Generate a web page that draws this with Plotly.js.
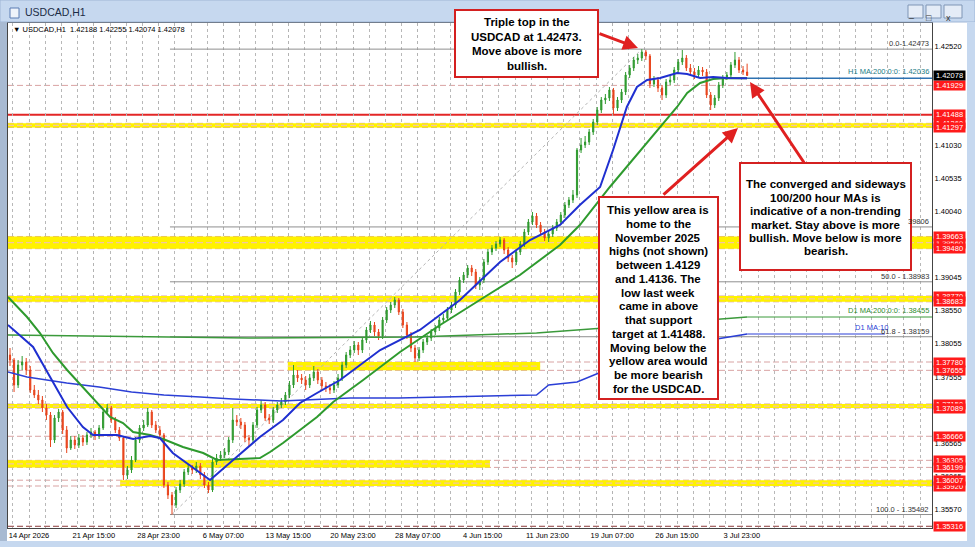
<!DOCTYPE html>
<html><head><meta charset="utf-8">
<script src="https://cdn.plot.ly/plotly-3.0.1.min.js"></script>
<style>html,body{margin:0;padding:0;background:#fff;overflow:hidden}#chart{width:975px;height:547px}</style>
</head><body><div id="chart"></div>
<script>
// ---- data (8-hour candles) ----
const opens=[1.37885,1.37810,1.37435,1.37735,1.37780,1.37660,1.37360,1.37285,1.37210,1.37090,
1.36985,1.36610,1.36940,1.37030,1.36760,1.36490,1.36610,1.36535,1.36640,1.36580,
1.36685,1.36730,1.36670,1.36790,1.37030,1.37090,1.36910,1.36760,1.36640,1.36085,
1.36160,1.36310,1.36610,1.36790,1.36835,1.37030,1.36835,1.36760,1.36685,1.35935,
1.35785,1.35635,1.35860,1.35950,1.36130,1.36190,1.36160,1.36220,1.36085,1.35935,
1.35860,1.36280,1.36340,1.36385,1.36430,1.36610,1.36910,1.36880,1.36835,1.36640,
1.36610,1.36835,1.37060,1.37135,1.36940,1.36910,1.37060,1.37135,1.37180,1.37285,
1.37435,1.37585,1.37540,1.37510,1.37435,1.37540,1.37630,1.37510,1.37420,1.37390,
1.37360,1.37435,1.37540,1.37735,1.37885,1.37960,1.38035,1.37960,1.38110,1.38260,
1.38335,1.38230,1.38170,1.38410,1.38560,1.38635,1.38710,1.38530,1.38335,1.38185,
1.37990,1.37840,1.37960,1.38080,1.38140,1.38230,1.38290,1.38410,1.38440,1.38560,
1.38635,1.38830,1.39010,1.39085,1.39190,1.39130,1.38935,1.39010,1.39280,1.39430,
1.39490,1.39550,1.39610,1.39460,1.39340,1.39280,1.39430,1.39550,1.39730,1.39880,
1.39970,1.39835,1.39730,1.39640,1.39700,1.39790,1.39880,1.39985,1.40135,1.40210,
1.40285,1.40960,1.41035,1.41080,1.41230,1.41380,1.41560,1.41710,1.41740,1.41860,
1.41590,1.41710,1.41830,1.42085,1.42190,1.42310,1.42340,1.42430,1.42370,1.41950,
1.42010,1.41890,1.41785,1.41980,1.42010,1.42160,1.42280,1.42340,1.42190,1.42130,
1.42085,1.42160,1.42130,1.41785,1.41635,1.41740,1.41935,1.42040,1.42085,1.42235,
1.42310,1.42160,1.42130];
const highs=[1.37990,1.37840,1.37810,1.37870,1.37840,1.37720,1.37435,1.37360,1.37270,1.37150,
1.37030,1.36985,1.37075,1.37060,1.36820,1.36670,1.36670,1.36700,1.36685,1.36730,
1.36790,1.36760,1.36835,1.37075,1.37150,1.37120,1.36955,1.36805,1.36670,1.36220,
1.36370,1.36655,1.36835,1.36910,1.37090,1.37060,1.36895,1.36820,1.36715,1.35980,
1.35830,1.35905,1.36010,1.36175,1.36250,1.36235,1.36280,1.36265,1.36130,1.35980,
1.36325,1.36400,1.36445,1.36490,1.36655,1.37090,1.36985,1.36940,1.36880,1.36685,
1.36880,1.37105,1.37210,1.37180,1.37000,1.37105,1.37180,1.37240,1.37330,1.37495,
1.37735,1.37660,1.37600,1.37570,1.37600,1.37720,1.37675,1.37555,1.37480,1.37450,
1.37495,1.37600,1.37780,1.37930,1.38020,1.38095,1.38080,1.38155,1.38305,1.38395,
1.38380,1.38275,1.38455,1.38605,1.38680,1.38755,1.38740,1.38575,1.38380,1.38230,
1.38035,1.38005,1.38125,1.38185,1.38275,1.38335,1.38455,1.38500,1.38605,1.38680,
1.38875,1.39055,1.39130,1.39235,1.39235,1.39175,1.39055,1.39325,1.39475,1.39535,
1.39595,1.39655,1.39640,1.39505,1.39385,1.39475,1.39595,1.39775,1.39925,1.40030,
1.40015,1.39880,1.39775,1.39745,1.39835,1.39925,1.40030,1.40180,1.40255,1.40360,
1.40990,1.41140,1.41170,1.41275,1.41425,1.41605,1.41755,1.41800,1.41905,1.41890,
1.41755,1.41875,1.42130,1.42235,1.42355,1.42400,1.42473,1.42460,1.42400,1.42070,
1.42055,1.41935,1.42025,1.42070,1.42205,1.42325,1.42460,1.42385,1.42250,1.42190,
1.42220,1.42205,1.42175,1.41830,1.41785,1.41980,1.42085,1.42130,1.42280,1.42430,
1.42355,1.42220,1.42255];
const lows=[1.37720,1.37330,1.37390,1.37660,1.37585,1.37315,1.37240,1.37150,1.37030,1.36910,
1.36505,1.36565,1.36880,1.36700,1.36415,1.36460,1.36475,1.36490,1.36520,1.36535,
1.36640,1.36610,1.36625,1.36760,1.37000,1.36865,1.36715,1.36595,1.36010,1.36025,
1.36115,1.36280,1.36565,1.36745,1.36805,1.36790,1.36715,1.36640,1.35890,1.35725,
1.35492,1.35590,1.35815,1.35905,1.36085,1.36100,1.36115,1.36025,1.35890,1.35815,
1.35830,1.36235,1.36295,1.36340,1.36385,1.36565,1.36820,1.36775,1.36580,1.36505,
1.36565,1.36790,1.37015,1.36895,1.36850,1.36865,1.37015,1.37090,1.37135,1.37240,
1.37390,1.37480,1.37450,1.37360,1.37390,1.37495,1.37450,1.37360,1.37330,1.37300,
1.37315,1.37390,1.37495,1.37690,1.37840,1.37915,1.37885,1.37915,1.38065,1.38215,
1.38170,1.38110,1.38125,1.38365,1.38515,1.38590,1.38485,1.38290,1.38125,1.37930,
1.37780,1.37795,1.37915,1.38035,1.38095,1.38185,1.38245,1.38365,1.38395,1.38515,
1.38590,1.38785,1.38965,1.39040,1.39070,1.38875,1.38860,1.38965,1.39235,1.39385,
1.39445,1.39505,1.39400,1.39280,1.39190,1.39235,1.39385,1.39505,1.39685,1.39835,
1.39790,1.39685,1.39595,1.39580,1.39655,1.39745,1.39835,1.39940,1.40090,1.40165,
1.40240,1.40915,1.40990,1.41035,1.41185,1.41335,1.41515,1.41650,1.41695,1.41485,
1.41545,1.41665,1.41785,1.42040,1.42145,1.42250,1.42295,1.42310,1.41890,1.41905,
1.41830,1.41710,1.41740,1.41935,1.41965,1.42115,1.42235,1.42145,1.42070,1.42025,
1.42040,1.42070,1.41740,1.41560,1.41590,1.41695,1.41890,1.42010,1.42040,1.42190,
1.42115,1.42085,1.42074];
const closes=[1.37810,1.37435,1.37735,1.37780,1.37660,1.37360,1.37285,1.37210,1.37090,1.36985,
1.36610,1.36940,1.37030,1.36760,1.36490,1.36610,1.36535,1.36640,1.36580,1.36685,
1.36730,1.36670,1.36790,1.37030,1.37090,1.36910,1.36760,1.36640,1.36085,1.36160,
1.36310,1.36610,1.36790,1.36835,1.37030,1.36835,1.36760,1.36685,1.35935,1.35785,
1.35635,1.35860,1.35950,1.36130,1.36190,1.36160,1.36220,1.36085,1.35935,1.35860,
1.36280,1.36340,1.36385,1.36430,1.36610,1.36910,1.36880,1.36835,1.36640,1.36610,
1.36835,1.37060,1.37135,1.36940,1.36910,1.37060,1.37135,1.37180,1.37285,1.37435,
1.37585,1.37540,1.37510,1.37435,1.37540,1.37630,1.37510,1.37420,1.37390,1.37360,
1.37435,1.37540,1.37735,1.37885,1.37960,1.38035,1.37960,1.38110,1.38260,1.38335,
1.38230,1.38170,1.38410,1.38560,1.38635,1.38710,1.38530,1.38335,1.38185,1.37990,
1.37840,1.37960,1.38080,1.38140,1.38230,1.38290,1.38410,1.38440,1.38560,1.38635,
1.38830,1.39010,1.39085,1.39190,1.39130,1.38935,1.39010,1.39280,1.39430,1.39490,
1.39550,1.39610,1.39460,1.39340,1.39280,1.39430,1.39550,1.39730,1.39880,1.39970,
1.39835,1.39730,1.39640,1.39700,1.39790,1.39880,1.39985,1.40135,1.40210,1.40285,
1.40960,1.41035,1.41080,1.41230,1.41380,1.41560,1.41710,1.41740,1.41860,1.41590,
1.41710,1.41830,1.42085,1.42190,1.42310,1.42340,1.42430,1.42370,1.41950,1.42010,
1.41890,1.41785,1.41980,1.42010,1.42160,1.42280,1.42340,1.42190,1.42130,1.42085,
1.42160,1.42130,1.41785,1.41635,1.41740,1.41935,1.42040,1.42085,1.42235,1.42310,
1.42160,1.42130,1.42078];

// moving averages (x = candle index)
const h1ma100X=[-0.5,5.7,9.9,14.1,18.0,20.5,26.4,30.4,34.6,37.0,40.2,45.2,49.4,55.1,61.7,67.4,71.6,75.8,81.5,91.4,101.2,111.1,121.0,128.4,135.8,140.7,145.7,148.9,152.3,154.8,157.3,160.5,164.7,167.2,170.4,173.6,177.0,182];
const h1ma100Y=[1.38335,1.38005,1.37555,1.37105,1.36805,1.36685,1.36685,1.36625,1.36670,1.36640,1.36415,1.36190,1.36010,1.36310,1.36655,1.36910,1.37165,1.37315,1.37510,1.37960,1.38260,1.38710,1.39280,1.39610,1.39835,1.40135,1.40405,1.40960,1.41605,1.41905,1.42010,1.42040,1.42115,1.42100,1.42040,1.42055,1.42040,1.42036];
const h1ma200X=[-0.5,4.2,7.4,10.6,14.1,18.0,22.2,24.7,27.9,30.4,34.6,37.8,42.7,47.7,51.1,56.0,61.7,64.2,67.4,71.6,75.8,79.8,84.0,87.2,96.3,106.2,116.0,125.9,135.8,140.7,148.1,152.3,156.3,160.5,164.7,167.2,170.4,173.6,177.0,182];
const h1ma200Y=[1.38755,1.38455,1.38215,1.37915,1.37660,1.37405,1.37135,1.36955,1.36865,1.36730,1.36685,1.36625,1.36505,1.36415,1.36310,1.36325,1.36340,1.36430,1.36565,1.36760,1.36955,1.37180,1.37360,1.37510,1.37930,1.38335,1.38710,1.39085,1.39535,1.39835,1.40405,1.40705,1.41005,1.41305,1.41605,1.41815,1.41965,1.42025,1.42040,1.42036];
const d1ma200X=[-0.5,59,100,130,150,170,182];
const d1ma200Y=[1.38185,1.38140,1.38155,1.38215,1.38305,1.38395,1.38455];
const d1ma100X=[-0.5,4.2,14,22,30,38,47,55,67,84,96,110,130,133,140,146,152,158,164,170,176,182];
const d1ma100Y=[1.37630,1.37555,1.37465,1.37405,1.37330,1.37285,1.37255,1.37225,1.37195,1.37240,1.37240,1.37255,1.37285,1.37435,1.37480,1.37630,1.37735,1.37885,1.37960,1.38080,1.38140,1.38200];

// axis labels
const dateLabels=["14 Apr 2026","21 Apr 15:00","28 Apr 23:00","6 May 07:00","13 May 15:00","20 May 23:00","28 May 07:00","4 Jun 15:00","11 Jun 23:00","19 Jun 07:00","26 Jun 15:00","3 Jul 23:00"];
const priceTicks=[1.42520,1.41030,1.40535,1.40040,1.39045,1.38550,1.38055,1.37555,1.36565,1.36065,1.35570];

// levels
const fibNames=["0.0-1.42473","39806","50.0 - 1.38983","61.8 - 1.38159","100.0 - 1.35492"];
const fibPrices=[1.42473,1.39806,1.38983,1.38159,1.35492];
const bandTop=[1.41360,1.39663,1.38770,1.37780,1.37150,1.36305,1.36007];
const bandBot=[1.41297,1.39480,1.38683,1.37655,1.37089,1.36199,1.35920];
const dashedLevels=[1.41929,1.41360,1.41297,1.39663,1.39480,1.38770,1.38683,1.37780,1.37655,1.37150,1.37089,1.36666,1.36305,1.36199,1.36007,1.35920];
const redLabelsBack=[1.41360,1.39560,1.37150,1.35920];
const redLabelsFront=[1.41929,1.41488,1.41297,1.39663,1.39480,1.38770,1.38683,1.37780,1.37655,1.37089,1.36666,1.36305,1.36199,1.36007,1.35316];
const supportRed=1.41488, lowDashed=1.35316, lastPrice=1.42078;
const h1maLast=1.42036, d1ma200Last=1.38455, d1ma100Last=1.38200;
const header="\u25BC USDCAD,H1  1.42188 1.42255 1.42074 1.42078";

const box1Lines=["Triple top in the","USDCAD at 1.42473.","Move above is more","bullish."];
const box2Lines=["This yellow area is","home to the","November 2025","highs (not shown)","between 1.4129","and 1.4136. The","low last week","came in above","that support","target at 1.41488.","Moving below the","yellow area would","be more bearish","for the USDCAD."];
const box3Lines=["The converged and sideways","100/200 hour MAs is","indicative of a non-trending","market. Stay above is more","bullish. Move below is more","bearish."];

// ---- geometry ----
const L=8,R=932,T=23,B=528;
const xp=px=>(px-L)/(R-L);
const yp=py=>(B-py)/(B-T);
const XR=[-0.494,227.65];
const idx=opens.map((_,i)=>i);
const tickPos=dateLabels.map((_,i)=>4.69+16*i);

const shapes=[],ann=[];
function prect(x0,y0,x1,y1,fill,line,lw,layer){shapes.push({type:'rect',xref:'paper',yref:'paper',x0:xp(x0),x1:xp(x1),y0:yp(y0),y1:yp(y1),fillcolor:fill,line:{color:line||fill,width:lw||0},layer:layer||'above'});}
// window chrome
prect(0,0,975,22,'#c6d8ef','#9fb6d6',1);
prect(0,22,7,547,'#a8bad2');
prect(967,22,975,547,'#c6d8ef');
prect(0,541,975,547,'#c6d8ef');
prect(10,8,19,18,'#eef3fa','#5b7db3',1);
prect(908,5,923,18,'#e4ecf7','#7f95b5',1);
prect(926,5,941,18,'#e4ecf7','#7f95b5',1);
prect(944,5,962,18,'#e4ecf7','#7f95b5',1);
ann.push({xref:'paper',yref:'paper',x:xp(23),y:yp(12),xanchor:'left',yanchor:'middle',text:'USDCAD,H1',showarrow:false,font:{size:10.5,color:'#1b2c45',family:'Liberation Sans'}});
[['\u2013',915.5],['\u25A1',933.5],['x',953]].forEach(b=>ann.push({xref:'paper',yref:'paper',x:xp(b[1]),y:yp(11.5),text:b[0],showarrow:false,font:{size:9,color:'#333'}}));

// yellow bands
const bandX=[[XR[0],XR[1]],[XR[0],XR[1]],[XR[0],XR[1]],[68.6,130.9],[XR[0],XR[1]],[XR[0],118.5],[27.2,XR[1]]];
bandTop.forEach((t,i)=>{
  shapes.push({type:'rect',xref:'x',yref:'y',x0:bandX[i][0],x1:bandX[i][1],y0:bandBot[i],y1:t,fillcolor:'#fff200',line:{width:0},layer:'between'});
  shapes.push({type:'line',xref:'x',yref:'y',x0:bandX[i][0],x1:bandX[i][1],y0:(t+bandBot[i])/2,y1:(t+bandBot[i])/2,line:{color:'#f3c7a0',width:1.2,dash:'6px,3px'},layer:'between'});
});
dashedLevels.forEach(v=>shapes.push({type:'line',xref:'paper',yref:'y',x0:0,x1:1,y0:v,y1:v,line:{color:'#d9a3a3',width:1,dash:'6px,3px'},layer:'between'}));
shapes.push({type:'line',xref:'paper',yref:'y',x0:0,x1:1,y0:lowDashed,y1:lowDashed,line:{color:'#8c3a3a',width:1,dash:'6px,3px'},layer:'between'});
shapes.push({type:'line',xref:'paper',yref:'y',x0:0,x1:1,y0:supportRed,y1:supportRed,line:{color:'#e32626',width:2},layer:'between'});
// fib
fibPrices.forEach(v=>shapes.push({type:'line',xref:'x',yref:'y',x0:39.5,x1:XR[1],y0:v,y1:v,line:{color:'#8f8f8f',width:1},layer:'between'}));
shapes.push({type:'line',xref:'x',yref:'y',x0:40,x1:156,y0:fibPrices[4],y1:fibPrices[0],line:{color:'#b5b5b5',width:1,dash:'dot'},layer:'between'});
// MA continuation lines
shapes.push({type:'line',xref:'x',yref:'y',x0:182,x1:XR[1],y0:h1maLast,y1:h1maLast,line:{color:'#2f73b2',width:1.5},layer:'between'});
shapes.push({type:'line',xref:'x',yref:'y',x0:182,x1:XR[1],y0:d1ma200Last,y1:d1ma200Last,line:{color:'#3b9a3b',width:1},layer:'between'});
shapes.push({type:'line',xref:'x',yref:'y',x0:182,x1:216,y0:d1ma100Last,y1:d1ma100Last,line:{color:'#2b3fd6',width:1},layer:'between'});

// annotation boxes
prect(455,10,598,77,'#ffffff','#d42020',2);
prect(599,197,718,399,'#ffffff','#d42020',2);
prect(740,163,911,270,'#ffffff','#d42020',2);
const bf={size:11.5,color:'#000',family:'Liberation Sans'};
function boxText(lines,cx,y0,dy){lines.forEach((s,i)=>ann.push({xref:'paper',yref:'paper',x:xp(cx),y:yp(y0+dy*i),text:'<b>'+s+'</b>',showarrow:false,font:bf,xanchor:'center',yanchor:'middle'}));}
boxText(box1Lines,526.5,22.3,14.5);
boxText(box2Lines,658,210,13.75);
boxText(box3Lines,825.5,184,13.5);
function arrow(hx,hy,tx,ty){ann.push({xref:'paper',yref:'paper',x:xp(hx),y:yp(hy),ax:tx-hx,ay:ty-hy,text:'',showarrow:true,arrowhead:2,arrowsize:1,arrowwidth:3,arrowcolor:'#e02020',standoff:0});}
arrow(638,48,598,33);
arrow(738,128,662,196);
arrow(750,82,805,164);

// header
ann.push({xref:'paper',yref:'paper',x:xp(11),y:yp(29.5),xanchor:'left',yanchor:'middle',text:header,showarrow:false,font:{size:7.5,color:'#000',family:'Liberation Sans'}});

// fib & MA labels
const sf={size:7.5,family:'Liberation Sans'};
fibPrices.forEach((v,i)=>ann.push({xref:'paper',yref:'y',x:xp(931),y:v,xanchor:'right',yanchor:'bottom',yshift:-1,text:fibNames[i],showarrow:false,font:Object.assign({color:'#333'},sf)}));
ann.push({xref:'paper',yref:'y',x:xp(931),y:h1maLast,xanchor:'right',yanchor:'bottom',yshift:0,text:'H1 MA:200:0:0: 1.42036',showarrow:false,font:Object.assign({color:'#1d7c86'},sf)});
ann.push({xref:'paper',yref:'y',x:xp(931),y:d1ma200Last,xanchor:'right',yanchor:'bottom',yshift:0,text:'D1 MA:200:0:0: 1.38455',showarrow:false,font:Object.assign({color:'#2e8b2e'},sf)});
ann.push({xref:'paper',yref:'y',x:xp(853),y:d1ma100Last,xanchor:'left',yanchor:'bottom',yshift:0,text:'D1 MA:10',showarrow:false,font:Object.assign({color:'#2b3fd6'},sf)});

// price labels
function plabel(v,bg){ann.push({xref:'paper',yref:'y',x:xp(933),y:v,xanchor:'left',yanchor:'middle',width:31,align:'center',text:v.toFixed(5),showarrow:false,bgcolor:bg,borderpad:0,font:{size:7.5,color:'#fff',family:'Liberation Sans'}});}
redLabelsBack.forEach(v=>plabel(v,'#ff1a1a'));
redLabelsFront.forEach(v=>plabel(v,'#ff1a1a'));
plabel(lastPrice,'#000');

const traces=[
 {type:'scatter',mode:'lines',x:d1ma100X,y:d1ma100Y,line:{color:'#2b3fd6',width:1.5},hoverinfo:'skip',showlegend:false},
 {type:'scatter',mode:'lines',x:d1ma200X,y:d1ma200Y,line:{color:'#3b9a3b',width:1.5},hoverinfo:'skip',showlegend:false},
 {type:'candlestick',x:idx,open:opens,high:highs,low:lows,close:closes,
  increasing:{line:{color:'#2f9a2f',width:1},fillcolor:'#2f9a2f'},
  decreasing:{line:{color:'#e8441c',width:1},fillcolor:'#e8441c'},
  whiskerwidth:0,hoverinfo:'skip',showlegend:false},
 {type:'scatter',mode:'lines',x:h1ma200X,y:h1ma200Y,line:{color:'#2e9a2e',width:2},hoverinfo:'skip',showlegend:false},
 {type:'scatter',mode:'lines',x:h1ma100X,y:h1ma100Y,line:{color:'#1f2fd0',width:2},hoverinfo:'skip',showlegend:false}
];

const layout={
 width:975,height:547,margin:{l:L,r:975-R,t:T,b:547-B,pad:0},
 paper_bgcolor:'#ffffff',plot_bgcolor:'#ffffff',
 font:{family:'Liberation Sans',size:7.5,color:'#000'},
 showlegend:false,dragmode:false,boxgap:0.6,
 xaxis:{range:XR,tickmode:'array',tickvals:tickPos,ticktext:dateLabels,showgrid:true,gridcolor:'#b3b3b3',griddash:'dot',gridwidth:1,
  minor:{tickmode:'linear',tick0:4.69,dtick:4,showgrid:true,gridcolor:'#b8b8b8',griddash:'dot',gridwidth:1,ticks:''},
  showline:true,mirror:true,linecolor:'#444',linewidth:1,ticks:'',zeroline:false,tickfont:{size:7.5},rangeslider:{visible:false},fixedrange:true},
 yaxis:{range:[1.3529,1.42865],side:'right',tickmode:'array',tickvals:priceTicks,ticktext:priceTicks.map(v=>v.toFixed(5)),showgrid:false,
  showline:true,mirror:true,linecolor:'#444',linewidth:1,ticks:'',zeroline:false,tickfont:{size:7.5},fixedrange:true},
 shapes:shapes,annotations:ann
};
Plotly.newPlot('chart',traces,layout,{displayModeBar:false,staticPlot:true});
</script></body></html>
